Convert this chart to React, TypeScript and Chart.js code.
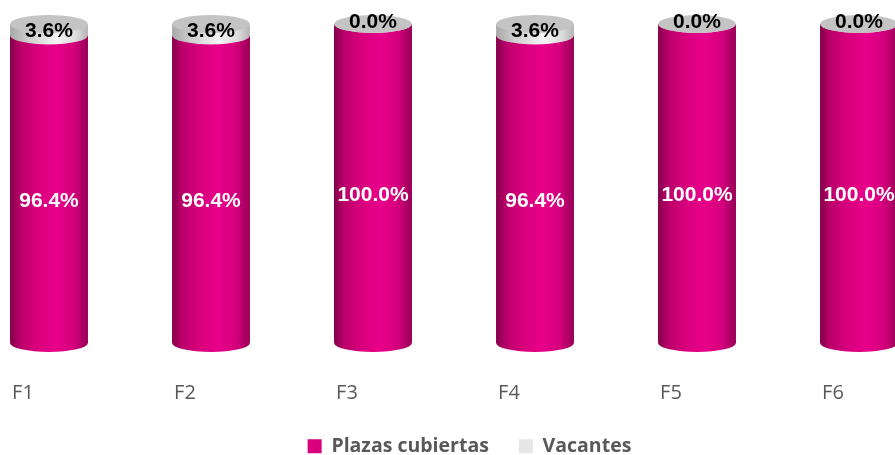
import React, { useEffect, useRef } from "react";
import { Chart, registerables } from "chart.js";

Chart.register(...registerables);

const categories = ["F1", "F2", "F3", "F4", "F5", "F6"];
const plazasCubiertas = [96.4, 96.4, 100.0, 96.4, 100.0, 100.0];
const vacantes = [3.6, 3.6, 0.0, 3.6, 0.0, 0.0];
const seriesNames = ["Plazas cubiertas", "Vacantes"];

const PINK = "#D9007E";
const GREY = "#E6E6E6";
const RY = 9;

function bodyPath(ctx: CanvasRenderingContext2D, x: number, rx: number, top: number, bottom: number) {
  ctx.beginPath();
  ctx.moveTo(x - rx, top);
  ctx.lineTo(x - rx, bottom);
  ctx.ellipse(x, bottom, rx, RY, 0, Math.PI, 0, true);
  ctx.lineTo(x + rx, top);
  ctx.closePath();
}

function hGrad(ctx: CanvasRenderingContext2D, x: number, rx: number, stops: [number, string][]) {
  const g = ctx.createLinearGradient(x - rx, 0, x + rx, 0);
  stops.forEach(([o, c]) => g.addColorStop(o, c));
  return g;
}

const cylinderPlugin = {
  id: "cylinders",
  afterDatasetsDraw(chart: any) {
    const ctx: CanvasRenderingContext2D = chart.ctx;
    const m0 = chart.getDatasetMeta(0);
    const m1 = chart.getDatasetMeta(1);
    ctx.save();
    for (let i = 0; i < m0.data.length; i++) {
      const a: any = m0.data[i];
      const b: any = m1.data[i];
      const x = a.x;
      const rx = a.width / 2;
      // pink body
      bodyPath(ctx, x, rx, a.y, a.base);
      ctx.fillStyle = hGrad(ctx, x, rx, [
        [0, "#820049"],
        [0.12, "#b80069"],
        [0.35, "#d8007c"],
        [0.6, "#e8008a"],
        [0.82, "#d4007c"],
        [1, "#960056"],
      ]);
      ctx.fill();
      // grey body
      bodyPath(ctx, x, rx, b.y, b.base);
      ctx.fillStyle = hGrad(ctx, x, rx, [
        [0, "#a8a8a8"],
        [0.25, "#d0d0d0"],
        [0.6, "#f4f4f4"],
        [0.85, "#dcdcdc"],
        [1, "#b4b4b4"],
      ]);
      ctx.fill();
      // top face
      ctx.beginPath();
      ctx.ellipse(x, b.y, rx, RY, 0, 0, Math.PI * 2);
      ctx.fillStyle = "#c4c4c4";
      ctx.fill();

      // labels
      ctx.font = "bold 21px 'Liberation Sans', Arial, sans-serif";
      ctx.textAlign = "center";
      ctx.textBaseline = "middle";
      ctx.fillStyle = "#ffffff";
      ctx.fillText(plazasCubiertas[i].toFixed(1) + "%", x, (a.y + a.base) / 2 + 12);
      ctx.fillStyle = "#000000";
      const v = vacantes[i];
      const ly = v > 0 ? (b.y + b.base) / 2 + 1 : b.y - 2;
      ctx.fillText(v.toFixed(1) + "%", x, ly);
    }
    ctx.restore();
  },
};

export default function App() {
  const ref = useRef<HTMLCanvasElement | null>(null);
  useEffect(() => {
    if (!ref.current) return;
    const chart = new Chart(ref.current, {
      type: "bar",
      data: {
        labels: categories,
        datasets: [
          { label: seriesNames[0], data: plazasCubiertas, backgroundColor: PINK, barPercentage: 0.48, categoryPercentage: 1 },
          { label: seriesNames[1], data: vacantes, backgroundColor: GREY, barPercentage: 0.48, categoryPercentage: 1 },
        ],
      },
      options: {
        responsive: false,
        animation: false,
        devicePixelRatio: 1,
        layout: { padding: { top: 24, left: 0, right: 0, bottom: 0 } },
        plugins: {
          legend: {
            position: "bottom",
            labels: {
              boxWidth: 14,
              boxHeight: 14,
              padding: 30,
              color: "#595959",
              font: { family: "'Open Sans', sans-serif", size: 19.5, weight: "bold" },
            },
          },
          tooltip: { enabled: false },
        },
        scales: {
          x: {
            stacked: true,
            grid: { display: false, drawTicks: false },
            border: { display: false },
            ticks: {
              color: "#595959",
              padding: 38,
              labelOffset: -26,
              font: { family: "'Open Sans', sans-serif", size: 20 },
            },
            afterFit: (s: any) => { s.height = 63.5; },
          },
          y: {
            stacked: true,
            position: "right",
            min: 0,
            max: 100,
            grid: { display: false, drawTicks: false },
            border: { display: false },
            ticks: { display: false },
            afterFit: (s: any) => { s.width = 31; },
          },
        },
      },
      plugins: [cylinderPlugin],
    });
    return () => chart.destroy();
  }, []);
  return (
    <div style={{ position: "fixed", left: 0, top: 0, width: 895, height: 455, overflow: "hidden", background: "#fff" }}>
      <canvas ref={ref} width={1003} height={466} style={{ position: "absolute", left: -32, top: 0, width: 1003, height: 466 }} />
    </div>
  );
}
